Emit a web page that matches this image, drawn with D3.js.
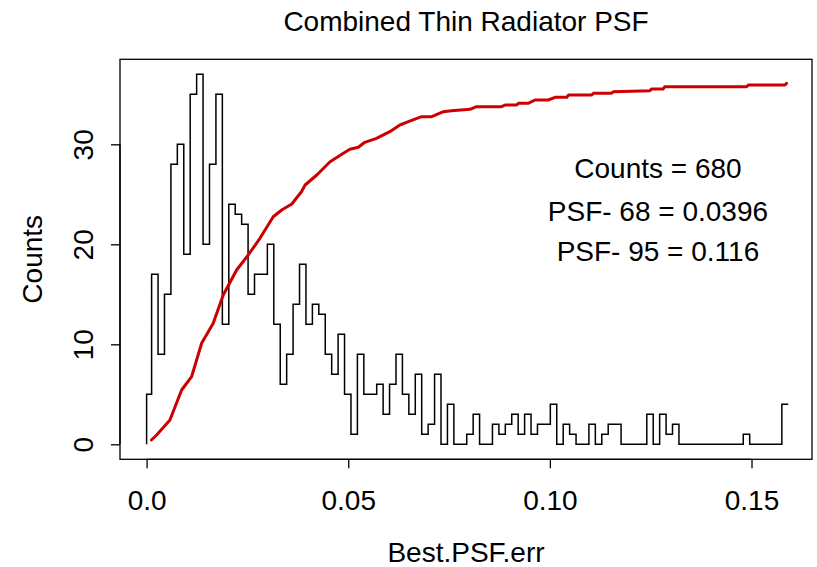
<!DOCTYPE html>
<html>
<head>
<meta charset="utf-8">
<script src="https://cdn.jsdelivr.net/npm/d3@7"></script>
<style>
  html, body { margin: 0; padding: 0; background: #ffffff; }
  svg { display: block; }
  text { font-family: "Liberation Sans", Arial, sans-serif; fill: #000; }
</style>
</head>
<body>
<svg id="chart" width="817" height="567"></svg>
<script>
// ---------------- data ----------------
const title = "Combined Thin Radiator PSF";
const xLabel = "Best.PSF.err";
const yLabel = "Counts";
const xTickValues = [0, 0.05, 0.10, 0.15];
const xTickLabels = ["0.0", "0.05", "0.10", "0.15"];
const yTickValues = [0, 10, 20, 30];
const yTickLabels = ["0", "10", "20", "30"];

// histogram: first bin starts at data minimum, then equal-width bins
const firstEdge = 0.0;
const binStart = 0.00124;
const binWidth = 0.0015947;
const counts = [5,
  17, 9, 15, 28, 30, 19, 35, 37, 20, 28, 35,
  12, 24, 23, 22, 15, 17, 17, 20, 12, 6,
  9, 14, 18, 12, 14, 13, 9, 7, 11, 5,
  1, 9, 5, 5, 6, 3, 6, 9, 5, 3, 7, 1, 2, 7,
  0, 4, 0, 0, 1, 3, 0, 0, 2, 1, 2, 3, 1, 3,
  1, 2, 2, 4, 0, 2, 1, 0, 0, 2, 0, 1, 2, 2, 0, 0, 0, 0, 3, 0, 3, 1, 2,
  0, 0, 0, 0, 0, 0, 0, 0, 0, 0,
  1,
  0, 0, 0, 0, 0,
  4];

// cumulative curve (scaled)
const cumX = [0.00119, 0.00248, 0.00578, 0.00868, 0.01116, 0.01364, 0.01652, 0.0190, 0.02232, 0.0252,
  0.0281, 0.0314, 0.0335, 0.0360, 0.0384, 0.0393, 0.0422, 0.0455, 0.0484, 0.0504,
  0.0525, 0.0541, 0.0570, 0.0603, 0.0628, 0.0649, 0.0682, 0.0707, 0.0736, 0.0756,
  0.0802, 0.0818, 0.0880, 0.0889, 0.0918, 0.0922, 0.0946, 0.0963, 0.0996, 0.1013,
  0.1042, 0.1046, 0.1104, 0.1108, 0.1153, 0.1157, 0.1248, 0.1252, 0.1281, 0.1285,
  0.1488, 0.1492, 0.1583, 0.1587];
const cumY = [0.43, 0.93, 2.43, 5.43, 6.76, 10.1, 12.1, 14.93, 17.43, 18.93,
  20.6, 22.76, 23.43, 24.03, 25.26, 25.93, 26.93, 28.26, 29.0, 29.5,
  29.7, 30.2, 30.6, 31.26, 31.93, 32.26, 32.76, 32.76, 33.26, 33.36,
  33.5, 33.76, 33.76, 33.93, 33.93, 34.1, 34.1, 34.43, 34.43, 34.7,
  34.7, 34.93, 34.93, 35.1, 35.1, 35.26, 35.36, 35.53, 35.53, 35.76,
  35.76, 35.93, 35.93, 36.1];

const annotations = ["Counts = 680", "PSF- 68 = 0.0396", "PSF- 95 = 0.116"];
const annotX = 0.1268;
const annotY = [27.6, 23.3, 19.3];

// ---------------- layout ----------------
const svg = d3.select("#chart");
const plot = { left: 120, right: 812, top: 59.3, bottom: 459.3 };
const x = d3.scaleLinear().domain([-0.0066, 0.1650]).range([plot.left, plot.right]);
const y = d3.scaleLinear().domain([-1.5, 38.5]).range([plot.bottom, plot.top]);

const FONT = 28;

// histogram step outline
const edges = [firstEdge];
for (let i = 0; i < counts.length; i++) edges.push(binStart + i * binWidth);
let p = d3.path();
p.moveTo(x(edges[0]), y(0));
counts.forEach((c, i) => {
  p.lineTo(x(edges[i]), y(c));
  p.lineTo(x(edges[i + 1]), y(c));
});
svg.append("path")
  .attr("d", p.toString())
  .attr("fill", "none")
  .attr("stroke", "#000")
  .attr("stroke-width", 1.5);

// cumulative red line
const line = d3.line().x((d, i) => x(cumX[i])).y((d, i) => y(cumY[i]));
svg.append("path")
  .attr("d", line(cumX))
  .attr("fill", "none")
  .attr("stroke", "#cc0000")
  .attr("stroke-width", 3)
  .attr("stroke-linejoin", "round")
  .attr("stroke-linecap", "round");

// box
svg.append("rect")
  .attr("x", plot.left).attr("y", plot.top)
  .attr("width", plot.right - plot.left).attr("height", plot.bottom - plot.top)
  .attr("fill", "none").attr("stroke", "#000").attr("stroke-width", 1.3);

// x axis
const xAxis = d3.axisBottom(x)
  .tickValues(xTickValues)
  .tickFormat((d, i) => xTickLabels[i])
  .tickSize(9).tickPadding(22);
const gx = svg.append("g").attr("transform", `translate(0,${plot.bottom})`).call(xAxis);
gx.select(".domain").attr("d", `M${x(xTickValues[0])},0H${x(xTickValues[xTickValues.length - 1])}`)
  .attr("stroke", "#000").attr("stroke-width", 1.3);
gx.selectAll(".tick line").attr("stroke", "#000").attr("stroke-width", 1.3);
gx.selectAll(".tick text").style("font-size", FONT + "px").style("font-family", "Liberation Sans, Arial, sans-serif").attr("fill", "#000");

// y axis
const yAxis = d3.axisLeft(y)
  .tickValues(yTickValues)
  .tickFormat("")
  .tickSize(9);
const gy = svg.append("g").attr("transform", `translate(${plot.left},0)`).call(yAxis);
gy.select(".domain").attr("d", `M0,${y(yTickValues[0])}V${y(yTickValues[yTickValues.length - 1])}`)
  .attr("stroke", "#000").attr("stroke-width", 1.3);
gy.selectAll(".tick line").attr("stroke", "#000").attr("stroke-width", 1.3);
gy.selectAll(".tick").append("text")
  .attr("transform", "translate(-27,0) rotate(-90)")
  .attr("text-anchor", "middle")
  .attr("fill", "#000")
  .style("font-size", FONT + "px")
  .text((d, i) => yTickLabels[i]);

// titles
svg.append("text")
  .attr("x", (plot.left + plot.right) / 2).attr("y", 31)
  .attr("text-anchor", "middle")
  .style("font-size", FONT + "px")
  .text(title);
svg.append("text")
  .attr("x", (plot.left + plot.right) / 2).attr("y", 562)
  .attr("text-anchor", "middle")
  .style("font-size", FONT + "px")
  .text(xLabel);
svg.append("text")
  .attr("transform", `translate(42,${(plot.top + plot.bottom) / 2}) rotate(-90)`)
  .attr("text-anchor", "middle")
  .style("font-size", FONT + "px")
  .text(yLabel);

// annotations
annotations.forEach((t, i) => {
  svg.append("text")
    .attr("x", x(annotX)).attr("y", y(annotY[i]))
    .attr("dy", "0.36em")
    .attr("text-anchor", "middle")
    .style("font-size", FONT + "px")
    .text(t);
});
</script>
</body>
</html>
